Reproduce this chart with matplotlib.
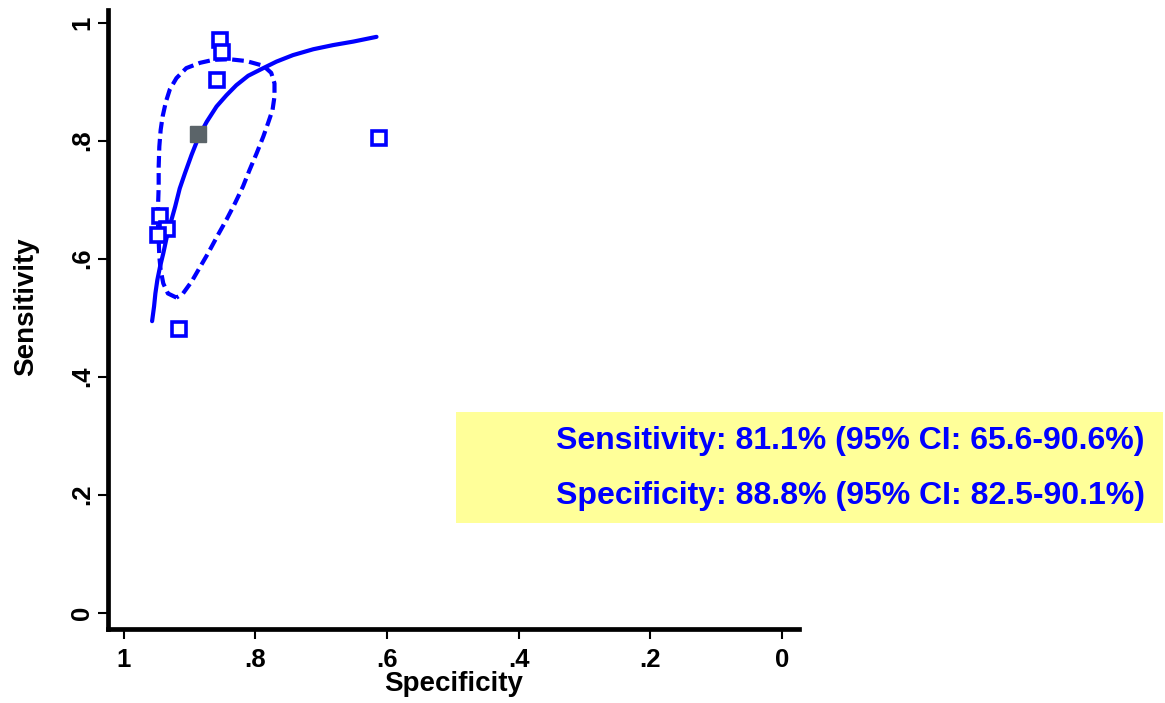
import matplotlib
matplotlib.use("Agg")
from matplotlib import pyplot as plt
from matplotlib.patches import Rectangle

plt.rcParams['font.family'] = ['Liberation Sans', 'DejaVu Sans']
plt.rcParams['font.weight'] = 'bold'

BLUE = '#0000ff'

# study estimates (specificity, sensitivity)
study_spec = [0.854, 0.851, 0.859, 0.945, 0.935, 0.948, 0.916, 0.612]
study_sens = [0.971, 0.950, 0.903, 0.672, 0.650, 0.640, 0.480, 0.805]

# summary operating point
summary_spec = 0.888
summary_sens = 0.811

# SROC curve
sroc_spec = [0.957, 0.954, 0.952, 0.949, 0.945, 0.940, 0.935, 0.929, 0.922, 0.915, 0.907, 0.897,
             0.886, 0.874, 0.859, 0.844, 0.829, 0.811, 0.788, 0.768, 0.743, 0.712, 0.682, 0.651, 0.616]
sroc_sens = [0.494, 0.519, 0.541, 0.564, 0.586, 0.609, 0.635, 0.660, 0.688, 0.719, 0.745, 0.776,
             0.807, 0.832, 0.858, 0.877, 0.894, 0.910, 0.923, 0.934, 0.945, 0.955, 0.962, 0.968, 0.976]

# 95% confidence contour
conf_spec = [0.920, 0.933, 0.940, 0.944, 0.946, 0.947, 0.948, 0.948, 0.947, 0.947, 0.946, 0.944,
             0.941, 0.936, 0.930, 0.920, 0.905, 0.884, 0.864, 0.839, 0.814, 0.788, 0.776, 0.771,
             0.771, 0.774, 0.781, 0.788, 0.798, 0.809, 0.819, 0.831, 0.844, 0.857, 0.872, 0.884,
             0.897, 0.910, 0.920]
conf_sens = [0.534, 0.541, 0.558, 0.581, 0.603, 0.632, 0.660, 0.688, 0.722, 0.756, 0.790, 0.818,
             0.841, 0.866, 0.887, 0.906, 0.923, 0.932, 0.937, 0.938, 0.935, 0.927, 0.915, 0.897,
             0.875, 0.852, 0.829, 0.807, 0.779, 0.750, 0.722, 0.694, 0.666, 0.640, 0.609, 0.586,
             0.561, 0.541, 0.534]

ticks = [1, 0.8, 0.6, 0.4, 0.2, 0]
tick_labels = ['1', '.8', '.6', '.4', '.2', '0']

summary_text = ['Sensitivity: 81.1% (95% CI: 65.6-90.6%)',
                'Specificity: 88.8% (95% CI: 82.5-90.1%)']

fig = plt.figure(figsize=(11.65, 7.03), dpi=100)
ax = fig.add_axes([108 / 1165, (703 - 628.5) / 703, (799 - 108) / 1165, (628.5 - 10) / 703])

ax.plot(conf_spec, conf_sens, color=BLUE, lw=3, linestyle=(0, (2.8, 1.3)))
ax.plot(sroc_spec, sroc_sens, color=BLUE, lw=3, solid_capstyle='round', solid_joinstyle='round')
ax.plot(study_spec, study_sens, linestyle='none', marker='s', markersize=10,
        markerfacecolor='white', markeredgecolor=BLUE, markeredgewidth=2.6)
ax.plot([summary_spec], [summary_sens], linestyle='none', marker='s', markersize=11,
        markerfacecolor='#5b6469', markeredgecolor='#5b6469')

ax.set_xlim(1.024, -0.026)
ax.set_ylim(-0.027, 1.0215)

ax.set_xticks(ticks)
ax.set_xticklabels(tick_labels)
ax.set_yticks(ticks)
ax.set_yticklabels(tick_labels, rotation=90, va='center')
ax.tick_params(axis='both', length=7, width=1.5, labelsize=18.5)
ax.tick_params(axis='x', pad=7)
ax.tick_params(axis='y', pad=3)

for side in ['top', 'right']:
    ax.spines[side].set_visible(False)
for side in ['left', 'bottom']:
    ax.spines[side].set_linewidth(3.4)

ax.set_xlabel('Specificity', fontsize=20, fontweight='bold')
ax.xaxis.set_label_coords(0.5, -0.068)
ax.set_ylabel('Sensitivity', fontsize=20, fontweight='bold')
ax.yaxis.set_label_coords(-0.1, 0.521)

# yellow box with summary estimates, running past the plot region
box = Rectangle((456 / 1165, (703 - 523) / 703), (1163 - 456) / 1165, (523 - 412) / 703,
                transform=fig.transFigure, facecolor='#ffff99', edgecolor='none', zorder=0)
fig.patches.append(box)
fig.text(1145 / 1165, (703 - 441) / 703, summary_text[0], ha='right', va='center',
         color=BLUE, fontsize=23, fontweight='bold')
fig.text(1145 / 1165, (703 - 496) / 703, summary_text[1], ha='right', va='center',
         color=BLUE, fontsize=23, fontweight='bold')

fig.savefig('out.png', dpi=100)
